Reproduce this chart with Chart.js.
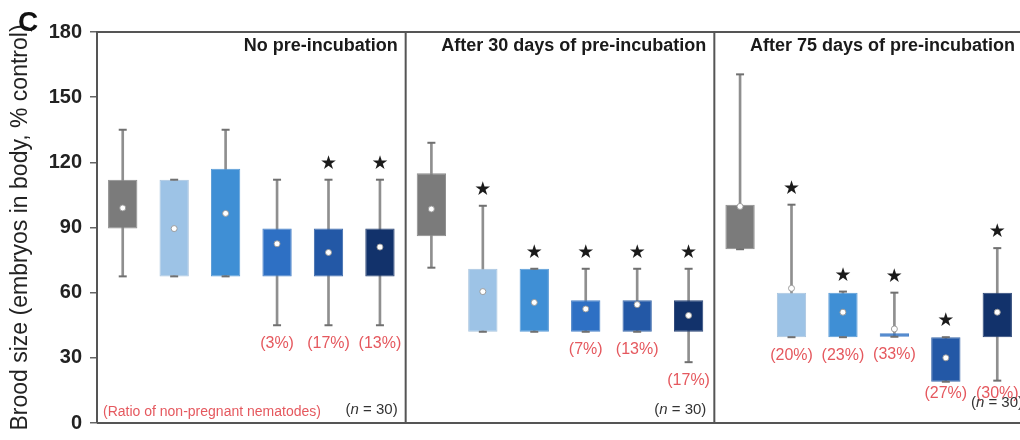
<!DOCTYPE html>
<html>
<head>
<meta charset="utf-8">
<script src="https://cdn.jsdelivr.net/npm/chart.js@4/dist/chart.umd.min.js"></script>
<style>
  html, body { margin: 0; padding: 0; background: #fff; overflow: hidden; }
  #wrap { width: 1030px; height: 440px; }
</style>
</head>
<body>
<div id="wrap"><canvas id="c" width="1030" height="440"></canvas></div>
<script>
// Incubation conditions (one panel each) and the six treatments in every panel
const panels = ['No pre-incubation', 'After 30 days of pre-incubation', 'After 75 days of pre-incubation'];
const treatments = ['Control', 'T1', 'T2', 'T3', 'T4', 'T5'];
const categories = panels.flatMap(p => treatments.map(t => p + ' / ' + t));

// Brood size, % of control
const whiskerHigh = [135, 112, 135, 112, 112, 112,   129, 100, 71, 71, 71, 71,    160.5, 100.5, 60.5, 60, 39.5, 80.5];
const boxHigh     = [112, 112, 117, 89.5, 89.5, 89.5, 115, 71, 71, 56.5, 56.5, 56.5, 100.5, 60, 60, 41.3, 39.5, 60];
const boxLow      = [89.5, 67.5, 67.5, 67.5, 67.5, 67.5, 86, 42, 42, 42, 42, 42,  80, 39.5, 39.5, 39.7, 19, 39.5];
const whiskerLow  = [67.5, 67.5, 67.5, 45, 45, 45,   71.5, 42, 42, 42, 42, 28,    80, 39.5, 39.5, 39.7, 19, 19.5];
const means       = [99, 89.5, 96.5, 82.5, 78.5, 81, 98.5, 60.5, 55.5, 52.5, 54.5, 49.5, 99.7, 62, 51, 43.3, 30, 51];

// Significance marks and ratio of non-pregnant nematodes
const significant = [false, false, false, false, true, true,  false, true, true, true, true, true,  false, true, true, true, true, true];
const nonPregnant = ['', '', '', '(3%)', '(17%)', '(13%)',  '', '', '', '(7%)', '(13%)', '(17%)',  '', '(20%)', '(23%)', '(33%)', '(27%)', '(30%)'];
const sampleSize = 30;

// y-axis ticks
const yTicks = [0, 30, 60, 90, 120, 150, 180];

const treatmentColors = ['#7b7b7b', '#9dc3e6', '#3f8fd5', '#2e70c4', '#2358a6', '#12326b'];
const treatmentBorders = ['#8c8c8c', '#a9c4de', '#5a9bd6', '#4a82c8', '#3d6aab', '#2a4476'];
const boxColors = categories.map((_, i) => treatmentColors[i % 6]);
const boxBorders = categories.map((_, i) => treatmentBorders[i % 6]);

const FONT = "'Liberation Sans', Arial, sans-serif";
const RED = '#e5585e';

const decorations = {
  id: 'decorations',
  afterDatasetsDraw(chart) {
    const { ctx, chartArea: a, scales: { x, y } } = chart;
    ctx.save();
    // frame: top, bottom and panel dividers
    ctx.strokeStyle = '#555';
    ctx.lineWidth = 2;
    ctx.beginPath();
    ctx.moveTo(a.left, a.top); ctx.lineTo(a.right, a.top);
    ctx.moveTo(a.left, a.bottom); ctx.lineTo(a.right, a.bottom);
    const edges = [];
    for (let p = 0; p < panels.length; p++) {
      const last = p * 6 + 5;
      const right = last + 1 < categories.length
        ? (x.getPixelForValue(last) + x.getPixelForValue(last + 1)) / 2
        : a.right;
      edges.push(right);
      if (last + 1 < categories.length) {
        ctx.moveTo(right, a.top); ctx.lineTo(right, a.bottom);
      }
    }
    ctx.stroke();

    // panel titles
    ctx.fillStyle = '#1a1a1a';
    ctx.font = 'bold 18px ' + FONT;
    ctx.textAlign = 'right';
    ctx.textBaseline = 'middle';
    panels.forEach((t, p) => ctx.fillText(t, edges[p] - 8, a.top + 14));

    // significance stars
    ctx.font = '19px "DejaVu Sans"';
    ctx.textAlign = 'center';
    ctx.fillStyle = '#1a1a1a';
    significant.forEach((s, i) => {
      if (s) ctx.fillText('\u2605', x.getPixelForValue(i), y.getPixelForValue(whiskerHigh[i]) - 16);
    });

    // non-pregnant ratios
    ctx.font = '16px ' + FONT;
    ctx.fillStyle = RED;
    nonPregnant.forEach((t, i) => {
      if (!t) return;
      const py = Math.min(y.getPixelForValue(whiskerLow[i]) + 18, a.bottom - 29);
      ctx.fillText(t, x.getPixelForValue(i), py);
    });
    ctx.textAlign = 'left';
    ctx.font = '14px ' + FONT;
    ctx.fillText('(Ratio of non-pregnant nematodes)', a.left + 6, a.bottom - 11);

    // sample size per panel
    edges.forEach((e, p) => {
      const lastPanel = p === panels.length - 1;
      const py = lastPanel ? a.bottom - 20 : a.bottom - 13;
      const parts = [['(', '15px '], ['n', 'italic 15px '], [' = ' + sampleSize + ')', '15px ']];
      let w = 0;
      parts.forEach(([s, f]) => { ctx.font = f + FONT; w += ctx.measureText(s).width; });
      let px = e - (lastPanel ? 0 : 8) - w;
      ctx.fillStyle = '#333';
      parts.forEach(([s, f]) => { ctx.font = f + FONT; ctx.fillText(s, px, py); px += ctx.measureText(s).width; });
    });

    // panel letter
    ctx.fillStyle = '#111';
    ctx.font = 'bold 28px ' + FONT;
    ctx.textAlign = 'left';
    ctx.textBaseline = 'alphabetic';
    ctx.fillText('C', 18, 31);
    ctx.restore();
  }
};

new Chart(document.getElementById('c'), {
  type: 'bar',
  data: {
    labels: categories,
    datasets: [
      {
        type: 'line',
        label: 'Mean',
        data: means,
        showLine: false,
        pointRadius: 3,
        pointStyle: 'circle',
        pointBackgroundColor: '#ffffff',
        pointBorderColor: 'rgba(150,150,150,0.9)',
        pointBorderWidth: 1,
        order: 0
      },
      {
        type: 'line',
        label: 'Upper cap',
        data: whiskerHigh,
        showLine: false,
        pointStyle: 'line',
        pointRadius: 4,
        pointBorderColor: '#707070',
        pointBorderWidth: 2,
        order: 1
      },
      {
        type: 'line',
        label: 'Lower cap',
        data: whiskerLow,
        showLine: false,
        pointStyle: 'line',
        pointRadius: 4,
        pointBorderColor: '#707070',
        pointBorderWidth: 2,
        order: 1
      },
      {
        label: 'Interquartile range',
        data: boxLow.map((lo, i) => [lo, boxHigh[i]]),
        backgroundColor: boxColors,
        borderColor: boxBorders,
        borderWidth: 1,
        borderSkipped: false,
        grouped: false,
        barPercentage: 0.57,
        categoryPercentage: 1,
        order: 2
      },
      {
        label: 'Range',
        data: whiskerLow.map((lo, i) => [lo, whiskerHigh[i]]),
        backgroundColor: '#8f8f8f',
        borderWidth: 0,
        grouped: false,
        barThickness: 2,
        order: 3
      }
    ]
  },
  options: {
    responsive: false,
    animation: false,
    devicePixelRatio: 1,
    layout: { padding: { top: 32, bottom: 17, left: 0, right: 7 } },
    plugins: { legend: { display: false }, tooltip: { enabled: false } },
    scales: {
      x: { display: false, offset: true },
      y: {
        min: 0,
        max: 180,
        afterBuildTicks: s => { s.ticks = yTicks.map(v => ({ value: v })); },
        afterFit: s => { s.width = 97; s.paddingTop = 0; s.paddingBottom = 0; },
        ticks: { color: '#222', font: { family: FONT, size: 20, weight: 'bold' }, padding: 8 },
        grid: { drawOnChartArea: false, drawTicks: true, tickLength: 7, color: '#666', lineWidth: 1.5 },
        border: { display: true, color: '#555', width: 2 },
        title: {
          display: true,
          text: 'Brood size (embryos in body, % control)',
          color: '#222',
          font: { family: FONT, size: 23, weight: 'normal' },
          padding: { top: 7, bottom: 0 }
        }
      }
    }
  },
  plugins: [decorations]
});
</script>
</body>
</html>
